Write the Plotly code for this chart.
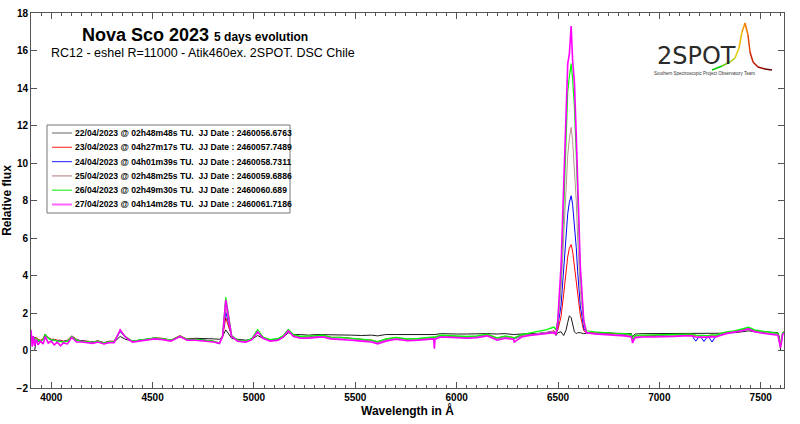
import plotly.graph_objects as go

# ---------------- data ----------------
wavelength = [
    3900, 3906, 3912, 3918, 3925, 3935, 3948, 3960, 3970, 3985,
    4000, 4015, 4030, 4045, 4060, 4080, 4101, 4125, 4150, 4180,
    4205, 4230, 4260, 4285, 4310, 4340, 4365, 4400, 4440, 4480,
    4510, 4550, 4590, 4635, 4670, 4710, 4760, 4800, 4830, 4845,
    4861, 4875, 4890, 4920, 4960, 4990, 5018, 5045, 5080, 5120,
    5145, 5169, 5195, 5230, 5270, 5310, 5340, 5380, 5430, 5480,
    5530, 5580, 5610, 5650, 5700, 5760, 5810, 5860, 5887, 5890,
    5893, 5920, 5960, 6000, 6050, 6100, 6150, 6200, 6240, 6280,
    6284, 6320, 6360, 6400, 6440, 6480, 6490, 6499, 6515, 6528,
    6540, 6548, 6556, 6565, 6572, 6581, 6590, 6597, 6610, 6627,
    6640, 6680, 6730, 6780, 6830, 6862, 6868, 6880, 6920, 6970,
    7020, 7070, 7120, 7160, 7180, 7200, 7220, 7240, 7260, 7280,
    7300, 7330, 7370, 7410, 7440, 7470, 7510, 7550, 7585, 7593,
    7598, 7603, 7608, 7615,
]

flux_0422 = [
    0.0, 0.0, 0.0, 0.0, 0.5, 0.5, 0.5, 0.6, 0.8, 0.65,
    0.55, 0.55, 0.5, 0.5, 0.45, 0.5, 0.7, 0.55, 0.5, 0.48,
    0.45, 0.5, 0.42, 0.45, 0.45, 0.75, 0.6, 0.5, 0.55, 0.6,
    0.65, 0.62, 0.55, 0.72, 0.62, 0.65, 0.65, 0.62, 0.6, 0.75,
    1.1, 0.85, 0.65, 0.6, 0.55, 0.6, 0.8, 0.65, 0.55, 0.6,
    0.7, 0.95, 0.85, 0.85, 0.82, 0.85, 0.85, 0.85, 0.85, 0.82,
    0.8, 0.82, 0.78, 0.85, 0.85, 0.85, 0.85, 0.85, 0.85, 0.82,
    0.85, 0.9, 0.88, 0.88, 0.88, 0.9, 0.9, 0.88, 0.9, 0.85,
    0.85, 0.88, 0.9, 0.9, 0.92, 1.0, 0.8, 0.95, 1.0, 0.8,
    1.1, 1.5, 1.85, 1.75, 1.35, 1.0, 0.9, 0.95, 0.95, 0.9,
    0.92, 0.95, 0.95, 0.92, 0.9, 0.9, 0.72, 0.88, 0.9, 0.9,
    0.9, 0.88, 0.9, 0.9, 0.88, 0.9, 0.9, 0.88, 0.9, 0.9,
    0.92, 0.95, 0.95, 1.0, 1.05, 1.0, 1.0, 0.98, 0.95, 0.7,
    0.0, 0.0, 0.0, 0.0,
]

flux_0423 = [
    0.8, 0.7, 0.75, 0.65, 0.7, 0.6, 0.55, 0.65, 0.88, 0.7,
    0.6, 0.6, 0.55, 0.55, 0.5, 0.55, 0.78, 0.6, 0.5, 0.5,
    0.45, 0.52, 0.42, 0.5, 0.5, 1.05, 0.75, 0.5, 0.55, 0.6,
    0.68, 0.65, 0.55, 0.8, 0.6, 0.6, 0.55, 0.5, 0.4, 0.7,
    1.75, 1.3, 0.75, 0.55, 0.5, 0.6, 1.0, 0.7, 0.55, 0.6,
    0.75, 1.05, 0.8, 0.72, 0.72, 0.78, 0.8, 0.7, 0.7, 0.65,
    0.6, 0.55, 0.45, 0.6, 0.68, 0.6, 0.62, 0.68, 0.7, 0.65,
    0.7, 0.8, 0.75, 0.75, 0.72, 0.75, 0.85, 0.65, 0.75, 0.7,
    0.65, 0.8, 0.85, 0.9, 0.95, 1.05, 0.9, 1.1, 1.8, 3.0,
    4.3, 5.0, 5.45, 5.65, 5.3, 4.5, 3.6, 3.0, 1.9, 1.05,
    0.95, 0.92, 0.9, 0.88, 0.85, 0.8, 0.55, 0.75, 0.78, 0.8,
    0.8, 0.82, 0.85, 0.85, 0.8, 0.75, 0.8, 0.78, 0.82, 0.8,
    0.85, 0.95, 1.0, 1.1, 1.2, 1.05, 1.0, 0.95, 0.9, 0.5,
    0.3, 0.6, 0.95, 1.0,
]

flux_0424 = [
    0.7, 0.75, 0.6, 0.7, 0.6, 0.55, 0.5, 0.6, 0.85, 0.68,
    0.58, 0.55, 0.52, 0.5, 0.48, 0.52, 0.75, 0.58, 0.5, 0.48,
    0.45, 0.5, 0.4, 0.48, 0.48, 1.0, 0.72, 0.5, 0.55, 0.6,
    0.66, 0.62, 0.55, 0.75, 0.58, 0.58, 0.55, 0.48, 0.35, 0.75,
    2.05, 1.45, 0.75, 0.52, 0.48, 0.6, 1.0, 0.68, 0.55, 0.6,
    0.75, 1.05, 0.78, 0.7, 0.7, 0.76, 0.78, 0.68, 0.68, 0.63,
    0.58, 0.52, 0.42, 0.58, 0.66, 0.58, 0.6, 0.66, 0.68, 0.6,
    0.68, 0.78, 0.73, 0.73, 0.7, 0.73, 0.82, 0.62, 0.72, 0.68,
    0.62, 0.78, 0.83, 0.88, 0.95, 1.02, 0.88, 1.3, 2.4, 4.3,
    6.2, 7.3, 7.9, 8.25, 7.8, 6.8, 5.5, 4.2, 2.4, 1.2,
    0.95, 0.9, 0.88, 0.86, 0.83, 0.78, 0.55, 0.74, 0.76, 0.78,
    0.78, 0.8, 0.82, 0.8, 0.5, 0.8, 0.48, 0.78, 0.45, 0.8,
    0.85, 0.95, 1.0, 1.1, 1.2, 1.05, 0.98, 0.93, 0.88, 0.45,
    0.25, 0.55, 0.9, 0.98,
]

flux_0425 = [
    0.75, 0.65, 0.7, 0.6, 0.65, 0.55, 0.52, 0.6, 0.85, 0.68,
    0.57, 0.55, 0.5, 0.5, 0.46, 0.5, 0.74, 0.57, 0.48, 0.47,
    0.44, 0.5, 0.4, 0.47, 0.47, 1.02, 0.72, 0.48, 0.53, 0.58,
    0.65, 0.62, 0.53, 0.76, 0.57, 0.57, 0.53, 0.47, 0.38, 0.75,
    2.35, 1.6, 0.75, 0.52, 0.48, 0.6, 1.0, 0.67, 0.53, 0.58,
    0.74, 1.05, 0.78, 0.7, 0.7, 0.76, 0.78, 0.68, 0.67, 0.62,
    0.57, 0.52, 0.42, 0.57, 0.65, 0.57, 0.6, 0.65, 0.67, 0.6,
    0.67, 0.78, 0.73, 0.73, 0.7, 0.73, 0.82, 0.62, 0.72, 0.67,
    0.6, 0.78, 0.83, 0.88, 0.95, 1.02, 0.88, 1.4, 3.2, 6.0,
    8.8, 10.4, 11.3, 11.9, 11.2, 9.8, 8.0, 6.0, 3.2, 1.4,
    0.95, 0.9, 0.88, 0.86, 0.83, 0.78, 0.55, 0.74, 0.76, 0.78,
    0.78, 0.8, 0.82, 0.82, 0.78, 0.75, 0.78, 0.76, 0.8, 0.78,
    0.85, 0.95, 1.0, 1.1, 1.18, 1.05, 0.98, 0.93, 0.88, 0.45,
    0.25, 0.55, 0.9, 0.98,
]

flux_0426 = [
    0.7, 0.6, 0.7, 0.55, 0.65, 0.55, 0.5, 0.6, 0.85, 0.65,
    0.55, 0.55, 0.5, 0.48, 0.45, 0.5, 0.75, 0.55, 0.48, 0.47,
    0.44, 0.5, 0.4, 0.47, 0.48, 1.05, 0.75, 0.5, 0.55, 0.6,
    0.67, 0.64, 0.55, 0.78, 0.6, 0.6, 0.55, 0.5, 0.4, 0.8,
    2.85, 1.9, 0.8, 0.55, 0.5, 0.65, 1.12, 0.72, 0.58, 0.65,
    0.8, 1.12, 0.85, 0.75, 0.76, 0.8, 0.82, 0.72, 0.7, 0.66,
    0.62, 0.56, 0.48, 0.62, 0.7, 0.62, 0.65, 0.7, 0.72, 0.66,
    0.72, 0.82, 0.78, 0.78, 0.75, 0.78, 0.88, 0.68, 0.78, 0.72,
    0.68, 0.85, 0.92, 1.0, 1.1, 1.25, 1.1, 1.6, 4.0, 7.5,
    11.0, 13.8, 14.6, 15.3, 14.5, 13.0, 10.5, 7.8, 4.2, 1.6,
    1.05, 1.0, 0.95, 0.92, 0.9, 0.85, 0.6, 0.8, 0.82, 0.85,
    0.85, 0.86, 0.88, 0.88, 0.82, 0.8, 0.82, 0.8, 0.84, 0.82,
    0.9, 1.0, 1.05, 1.15, 1.25, 1.1, 1.02, 0.97, 0.92, 0.5,
    0.3, 0.6, 0.95, 1.0,
]

flux_0427 = [
    1.1, 0.2, 0.75, 0.25, 0.6, 0.3, 0.5, 0.35, 0.75, 0.4,
    0.5, 0.3, 0.45, 0.25, 0.4, 0.35, 0.7, 0.45, 0.45, 0.4,
    0.38, 0.45, 0.35, 0.42, 0.42, 1.1, 0.72, 0.45, 0.5, 0.55,
    0.62, 0.58, 0.5, 0.75, 0.55, 0.55, 0.5, 0.45, 0.38, 0.75,
    2.7, 1.8, 0.75, 0.5, 0.45, 0.58, 1.0, 0.65, 0.5, 0.55,
    0.72, 1.05, 0.75, 0.65, 0.65, 0.7, 0.72, 0.62, 0.6, 0.55,
    0.5, 0.45, 0.35, 0.5, 0.6, 0.52, 0.55, 0.6, 0.62, 0.1,
    0.6, 0.72, 0.68, 0.68, 0.65, 0.68, 0.78, 0.55, 0.65, 0.6,
    0.45, 0.72, 0.8, 0.85, 0.92, 0.95, 0.85, 1.6, 4.5, 8.6,
    12.5, 15.3, 15.8, 17.3, 15.5, 14.3, 11.5, 8.6, 4.5, 1.6,
    0.95, 0.88, 0.85, 0.82, 0.78, 0.72, 0.4, 0.68, 0.72, 0.72,
    0.72, 0.75, 0.78, 0.78, 0.72, 0.7, 0.72, 0.7, 0.74, 0.72,
    0.8, 0.9, 0.98, 1.05, 1.15, 1.0, 0.92, 0.88, 0.82, 0.4,
    0.15, 0.45, 0.85, 0.95,
]

series_labels = [
    "22/04/2023 @ 02h48m48s TU.\u00a0 JJ Date : 2460056.6763",
    "23/04/2023 @ 04h27m17s TU.\u00a0 JJ Date : 2460057.7489",
    "24/04/2023 @ 04h01m39s TU.\u00a0 JJ Date : 2460058.7311",
    "25/04/2023 @ 02h48m25s TU.\u00a0 JJ Date : 2460059.6886",
    "26/04/2023 @ 02h49m30s TU.\u00a0 JJ Date : 2460060.689",
    "27/04/2023 @ 04h14m28s TU.\u00a0 JJ Date : 2460061.7186",
]
series_flux = [flux_0422, flux_0423, flux_0424, flux_0425, flux_0426, flux_0427]
series_colors = ["#1a1a1a", "#ff0000", "#0000ff", "#bc8f8f", "#00ff00", "#ff00ff"]
legend_colors = ["#808080", "#ff4040", "#4040ff", "#bc8f8f", "#33ee33", "#ff66ff"]
series_widths = [1, 1, 1, 1, 1.2, 1.6]

FONT = "Liberation Sans, Arial, Helvetica, sans-serif"

fig = go.Figure()
for name, flux, color, w in zip(series_labels, series_flux, series_colors, series_widths):
    fig.add_trace(go.Scatter(x=wavelength, y=flux, mode="lines", name=name,
                             line=dict(color=color, width=w), showlegend=False))

axis_common = dict(
    showgrid=False, zeroline=False, showline=True, linecolor="#555555", linewidth=1,
    mirror="ticks", ticks="inside", tickcolor="#555555", ticklen=6, automargin=False,
    tickfont=dict(family=FONT, size=10, color="#000000", weight="bold"),
)

fig.update_xaxes(range=[3900, 7615], dtick=500, tick0=0,
                 minor=dict(dtick=50, ticks="inside", ticklen=3, tickcolor="#555555"),
                 title=dict(text="Wavelength in Å", font=dict(family=FONT, size=12, weight="bold"),
                            standoff=4),
                 **axis_common)
fig.update_yaxes(range=[-2, 18], dtick=2, tick0=0,
                 title=dict(text="Relative flux", font=dict(family=FONT, size=12, weight="bold"),
                            standoff=4),
                 **axis_common)

fig.update_layout(
    width=800, height=424,
    margin=dict(l=31, r=16, t=13, b=36),
    paper_bgcolor="white", plot_bgcolor="white",
    font=dict(family=FONT, color="#000000"),
    showlegend=False,
)

def px(xp):
    return (xp - 31) / 753.0
def py(yp):
    return (388 - yp) / 375.0

# Titles
fig.add_annotation(xref="paper", yref="paper", x=px(80), y=py(35), xanchor="left", yanchor="middle",
                   showarrow=False,
                   text="<b>Nova Sco 2023</b> <b><span style='font-size:12px'>5 days evolution</span></b>",
                   font=dict(family=FONT, size=18, color="#000000"))
fig.add_annotation(xref="paper", yref="paper", x=px(49), y=py(53), xanchor="left", yanchor="middle",
                   showarrow=False,
                   text="RC12 - eshel R=11000 - Atik460ex. 2SPOT. DSC Chile",
                   font=dict(family=FONT, size=12.5, color="#000000"))

# Legend box (drawn by hand to match the compact original)
fig.add_shape(type="rect", xref="paper", yref="paper", x0=px(47), y0=py(213), x1=px(290), y1=py(125),
              line=dict(color="#777777", width=1), fillcolor="white", layer="above")
for i, (lab, col) in enumerate(zip(series_labels, legend_colors)):
    yy = 133 + i * 14.3
    fig.add_shape(type="line", xref="paper", yref="paper", x0=px(52), x1=px(72), y0=py(yy), y1=py(yy),
                  line=dict(color=col, width=2 if i == 5 else 1.2), layer="above")
    fig.add_annotation(xref="paper", yref="paper", x=px(73), y=py(yy), xanchor="left", yanchor="middle",
                       showarrow=False, text=lab,
                       font=dict(family=FONT, size=8.6, color="#000000", weight="bold"))

# Logo (decoration)
fig.add_annotation(xref="paper", yref="paper", x=px(655), y=py(56), xanchor="left", yanchor="middle",
                   showarrow=False, text="2SPOT",
                   font=dict(family="DejaVu Sans, sans-serif", size=24, color="#2b2b2b"))
fig.add_annotation(xref="paper", yref="paper", x=px(652), y=py(73), xanchor="left", yanchor="middle",
                   showarrow=False, text="Southern Spectroscopic Project Observatory Team",
                   font=dict(family=FONT, size=4.5, color="#333333"))
logo_pts = [(712, 70), (722, 66), (730, 62), (735, 58), (739, 48), (742, 32), (745, 23),
            (748, 35), (750, 52), (753, 62), (758, 67), (765, 69), (772, 70)]
logo_cols = ["#00cc00", "#66cc00", "#aacc00", "#ddcc00", "#eebb00", "#ee9900",
             "#ee7700", "#dd4400", "#cc2200", "#bb1100", "#990000", "#660000"]
for (a, b), c in zip(zip(logo_pts[:-1], logo_pts[1:]), logo_cols):
    fig.add_shape(type="line", xref="paper", yref="paper",
                  x0=px(a[0]), y0=py(a[1]), x1=px(b[0]), y1=py(b[1]),
                  line=dict(color=c, width=1.5))

fig.write_html("out.html")
